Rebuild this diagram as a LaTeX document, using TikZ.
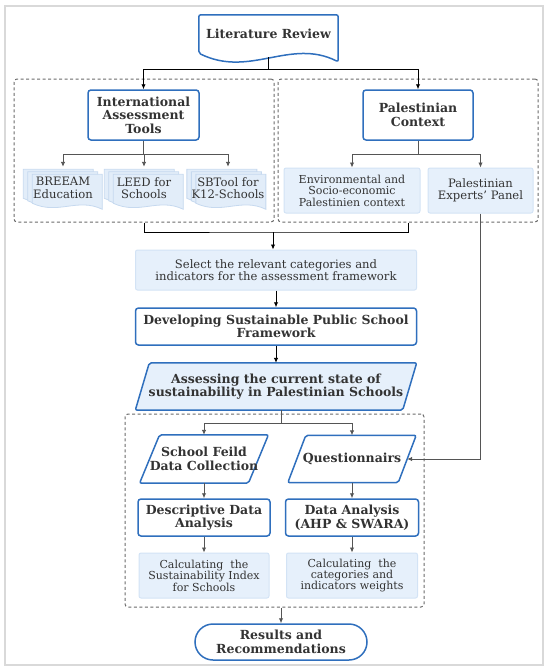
\documentclass[tikz,border=0pt]{standalone}
\usepackage{fontspec}
\setmainfont{DejaVu Serif}
\usetikzlibrary{arrows.meta,backgrounds,positioning}
\definecolor{myblue}{HTML}{2F6FBD}
\definecolor{mylight}{HTML}{E6F0FB}
\definecolor{mylightb}{HTML}{D3E3F5}
\definecolor{mydocf}{HTML}{E2EDF9}
\definecolor{mydocb}{HTML}{C6D9EF}
\definecolor{mygray}{HTML}{555555}
\definecolor{mydash}{HTML}{6A6A6A}
\definecolor{myframe}{HTML}{D9D9D9}
\definecolor{mytext}{HTML}{333333}
\begin{document}
\begin{tikzpicture}[
        x=1pt, y=-1pt,
        text=mytext,
        font=\fontsize{11.6}{12.3}\selectfont
    ]
    \tikzset{
        myboxb/.style = {rectangle, draw=myblue, line width=1.5pt, fill=white, rounded corners=3pt, align=center, inner sep=1pt, font=\fontsize{12.5}{13.6}\selectfont\bfseries},
        myboxl/.style = {rectangle, draw=mylightb, line width=1pt, fill=mylight, rounded corners=2pt, align=center, inner sep=1pt},
        mydoc/.style = {rectangle, minimum width=139pt, minimum height=38pt, inner sep=0pt, align=center, font=\fontsize{12.5}{13.6}\selectfont\bfseries},
        mymdoc/.style = {rectangle, minimum width=70pt, minimum height=32pt, inner sep=0pt, align=center},
        mypara/.style = {rectangle, inner sep=0pt, align=center, font=\fontsize{12.5}{13.6}\selectfont\bfseries},
        myterm/.style = {rectangle, draw=myblue, line width=1.5pt, fill=white, rounded corners=18pt, minimum width=172pt, minimum height=36pt, align=center, font=\fontsize{12.5}{13.6}\selectfont\bfseries},
        mygroup/.style = {rectangle, draw=mydash, line width=1pt, dash pattern=on 3pt off 2.5pt, rounded corners=3pt, minimum width=260pt, minimum height=143pt},
        myline/.style = {draw=myblue, line width=1.5pt, rounded corners=2pt},
        mydocline/.style = {draw=mydocb, line width=0.8pt, fill=mydocf},
        edgen/.style = {draw=mygray, line width=0.9pt},
        edgea/.style = {edgen, -{Latex[length=5pt,width=4.5pt]}},
    }
        \useasboundingbox (0,0) rectangle (550,669);
        \node[mydoc] at (268.5,34) (litrev) {Literature Review};
        \node[mygroup] at (144,150.5) (leftgrp) {};
        \node[mygroup] at (408,150.5) (rightgrp) {};
        \node[myboxb, minimum width=111pt, minimum height=50pt] at (143.5,115) (intl) {International\\Assessment\\Tools};
        \node[myboxb, minimum width=110pt, minimum height=50pt] at (418,115) (pal) {Palestinian\\Context};
        \node[mymdoc] at (63,188) (breeam) {BREEAM\\Education};
        \node[mymdoc] at (144,188) (leed) {LEED for\\Schools};
        \node[mymdoc] at (228,188) (sbtool) {SBTool for\\K12-Schools};
        \node[myboxl, minimum width=136pt, minimum height=45pt, font=\fontsize{11}{11.4}\selectfont] at (352,190.5) (envctx) {Environmental and\\Socio-economic\\Palestinien context};
        \node[myboxl, minimum width=105pt, minimum height=45pt] at (480.5,190.5) (experts) {Palestinian\\Experts' Panel};
        %
        \node[myboxl, minimum width=281pt, minimum height=40pt] at (276,270) (select) {Select the relevant categories and\\indicators for the assessment framework};
        \node[myboxb, minimum width=281pt, minimum height=37pt] at (276,326.5) (devel) {Developing Sustainable Public School\\Framework};
        \node[mypara, minimum width=267pt, minimum height=47pt] at (276,386.5) (assess) {Assessing the current state of\\sustainability in Palestinian Schools};
        %
        \node[mygroup, minimum width=299pt, minimum height=193pt] at (274.5,510.5) (lowgrp) {};
        \node[mypara, minimum width=106pt, minimum height=48pt] at (204,459) (school) {School Feild\\Data Collection};
        \node[mypara, minimum width=110pt, minimum height=47pt] at (352,459) (quest) {Questionnairs};
        \node[myboxb, minimum width=132pt, minimum height=37pt] at (204,517.5) (desc) {Descriptive Data\\Analysis};
        \node[myboxb, minimum width=133pt, minimum height=37pt] at (352,517.5) (dana) {Data Analysis\\(AHP \& SWARA)};
        \node[myboxl, minimum width=130pt, minimum height=45pt, font=\fontsize{11}{11.4}\selectfont] at (204,575.5) (calcl) {Calculating~ the\\Sustainability Index\\for Schools};
        \node[myboxl, minimum width=131pt, minimum height=45pt, font=\fontsize{11}{11.4}\selectfont] at (352,575.5) (calcr) {Calculating~ the\\categories and\\indicators weights};
        \node[myterm] at (281,642) (results) {Results and\\Recommendations};
        %
        \draw[edgea, draw=black] ([yshift=-4pt]litrev.south) -- ++(0,12) -| (intl.north);
        \draw[edgea, draw=black] ([yshift=-4pt]litrev.south) -- ++(0,12) -| (pal.north);
        \draw[edgea, shorten >=5pt] (intl.south) -- ++(0,14) -| (breeam.north);
        \draw[edgea, shorten >=5pt] (intl.south) -- ++(0,14) -| (leed.north);
        \draw[edgea, shorten >=5pt] (intl.south) -- ++(0,14) -| (sbtool.north);
        \draw[edgea] (pal.south) -- ++(0,14) -| (envctx.north);
        \draw[edgea] (pal.south) -- ++(0,14) -| (experts.north);
        %
        \coordinate (brk) at (273,232);
        \draw[edgen, draw=black] (leftgrp.south) |- (brk) -| (rightgrp.south);
        \draw[edgea, draw=black] (brk) -- (brk |- select.north);
        \draw[edgea, draw=black] (select) -- (devel);
        \draw[edgea, draw=black] (devel) -- (assess);
        %
        \draw[edgea] ([xshift=5pt]assess.south) -- ++(0,13) -| (school.north);
        \draw[edgea] ([xshift=5pt]assess.south) -- ++(0,13) -| (quest.north);
        \draw[edgea] (school) -- (desc);
        \draw[edgea] (desc) -- (calcl);
        \draw[edgea] (quest) -- (dana);
        \draw[edgea] (dana) -- (calcr);
        \draw[edgea] (experts.south) |- (quest.east);
        \draw[edgea] (lowgrp.south -| results.north) -- (results.north);

        \begin{scope}[on background layer]
            \draw[draw=myframe, line width=1.2pt] (5,6) rectangle (543,665);
            \draw[myline, fill=white] (litrev.north west) -- (litrev.north east) -- ++(0,47)
                .. controls +(-48,-24) and +(51,25) .. (litrev.south west) -- cycle;
            \foreach \n in {breeam,leed,sbtool}{
                \foreach \s in {-4.5,0,4.5}{
                    \draw[mydocline] ([shift={(\s,\s*0.55)}]\n.north west) -- ++(70,0) -- ++(0,35)
                        .. controls +(-25,-12) and +(26,12) .. ++(-70,-6) -- cycle;
                }
            }
            \foreach \n/\s/\f in {assess/7/mylight, school/10/white, quest/9/white}{
                \draw[myline, fill=\f] ([xshift=\s]\n.north west) -- ([xshift=\s]\n.north east)
                    -- ([xshift=-\s]\n.south east) -- ([xshift=-\s]\n.south west) -- cycle;
            }
        \end{scope}
    \end{tikzpicture}
\end{document}
